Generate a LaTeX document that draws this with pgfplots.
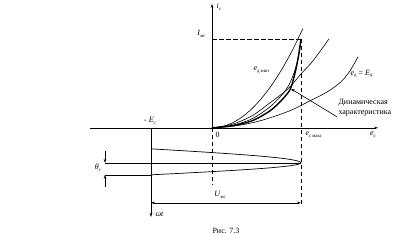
\documentclass[border=0pt]{standalone}
\usepackage{fontspec}
\setmainfont{Liberation Serif}
\usepackage{pgfplots}
\pgfplotsset{compat=1.18}
\usetikzlibrary{arrows.meta}
\newcommand{\sub}[1]{\raisebox{-0.45ex}{\fontsize{4.8}{5}\selectfont #1}}
\begin{document}
\begin{tikzpicture}
\begin{axis}[width=406pt,height=242pt,scale only axis,
  xmin=0,xmax=406,ymin=0,ymax=242,y dir=reverse,hide axis,clip=false,no markers,
  every axis plot/.append style={black,line width=0.6pt},
  ar/.style={-{Stealth[length=4pt,width=2.6pt]}},
  dsh/.style={dash pattern=on 4.5pt off 2.5pt}]
% frame for bounding box
\addplot[draw=none] coordinates {(0,0) (406,242)};
% axes
\addplot[ar] coordinates {(90,127) (378,127)};
\addplot[ar] coordinates {(212,127) (212,3)};
% dashed lines
\addplot[dsh] coordinates {(212,38) (301,38)};
\addplot[dsh] coordinates {(301,38) (301,206)};
\addplot[dsh] coordinates {(212.6,127) (212.6,184)};
% -E_c vertical (omega t axis)
\addplot[ar] coordinates {(151,127) (151,216)};
% horizontal lines
\addplot[black] coordinates {(105,162) (301,162)};
\addplot[black] coordinates {(105,174) (151,174)};
% theta arrows
\addplot[ar] coordinates {(105,150) (105,162)};
\addplot[ar] coordinates {(105,186) (105,174)};
% U_mc double arrow
\addplot[{Stealth[length=4pt,width=2.6pt]}-{Stealth[length=4pt,width=2.6pt]}] coordinates {(151,202) (301,202)};
% input voltage pulse
\addplot[line width=0.7pt] coordinates {
(151,148) (170.6,149.17) (189.8,150.33) (208.4,151.5) (226,152.67) (242.3,153.83)
(257.1,155) (270,156.17) (280.9,157.33) (289.6,158.5) (295.9,159.67) (299.7,160.83) (301,162)
(299.7,163) (295.9,164) (289.6,165) (280.9,166) (270,167) (257.1,168) (242.3,169)
(226,170) (208.4,171) (189.8,172) (170.6,173) (151,174)};
% characteristics
\addplot[smooth] coordinates {(212,127) (222,125.8) (232,122.2) (242,116.2) (252,107.8) (262,97) (272,83.8) (282,68.2) (292,50.2) (303,27.6)};
\addplot[smooth] coordinates {(212,127) (232,123.5) (252,115) (270,102) (282,93) (290,86) (302,72) (313,60) (329,38)};
\addplot[smooth] coordinates {(212,127) (232,125.5) (252,122) (270,117) (292,109) (312,99) (322,94) (332,88) (342,80) (350,70) (358,56)};
\addplot[smooth] coordinates {(212,127) (232,124.5) (252,118) (270,106) (282,94) (289,84) (294,72) (297.5,60) (300,48) (301,38)};
\addplot[smooth,line width=1.4pt] coordinates {(212,127) (232,125) (252,120) (270,110) (282,99) (290,89) (293,80) (296,68) (298.5,55) (301,38)};
% annotation arrow
\addplot[ar] coordinates {(337,116) (291,88)};
% labels
\node[anchor=west,font=\fontsize{8}{9}\selectfont] at (axis cs:213,6) {\textit{i}\sub{c}};
\node[anchor=east,font=\fontsize{8}{9}\selectfont] at (axis cs:209,33) {\textit{I}\sub{мс}};
\node[font=\fontsize{8}{9}\selectfont] at (axis cs:373,134) {\textit{e}\sub{c}};
\node[anchor=west,font=\fontsize{8}{9}\selectfont] at (axis cs:212,134) {0};
\node[anchor=west,font=\fontsize{8}{9}\selectfont] at (axis cs:302,134) {\textit{e}\sub{с макс}};
\node[font=\fontsize{8}{9}\selectfont] at (axis cs:150,120) {- \textit{E}\sub{c}};
\node[font=\fontsize{8}{9}\selectfont] at (axis cs:98,167) {\textit{θ}\sub{c}};
\node[font=\fontsize{8}{9}\selectfont] at (axis cs:220,194) {\textit{U}\sub{мс}};
\node[anchor=west,font=\fontsize{8}{9}\selectfont] at (axis cs:152,213) {\textit{ωt}};
\node[anchor=west,font=\fontsize{8}{9}\selectfont] at (axis cs:250,69) {\textit{e}\sub{д мин}};
\node[anchor=west,font=\fontsize{8}{9}\selectfont] at (axis cs:347,73) {\textit{e}\sub{д} = \textit{E}\sub{д}};
\node[anchor=west,font=\fontsize{8}{9}\selectfont] at (axis cs:335,102) {Динамическая};
\node[anchor=west,font=\fontsize{8}{9}\selectfont] at (axis cs:335,113) {характеристика};
\node[font=\fontsize{8}{9}\selectfont] at (axis cs:226,230) {Рис. 7.3};
\end{axis}
\end{tikzpicture}
\end{document}
